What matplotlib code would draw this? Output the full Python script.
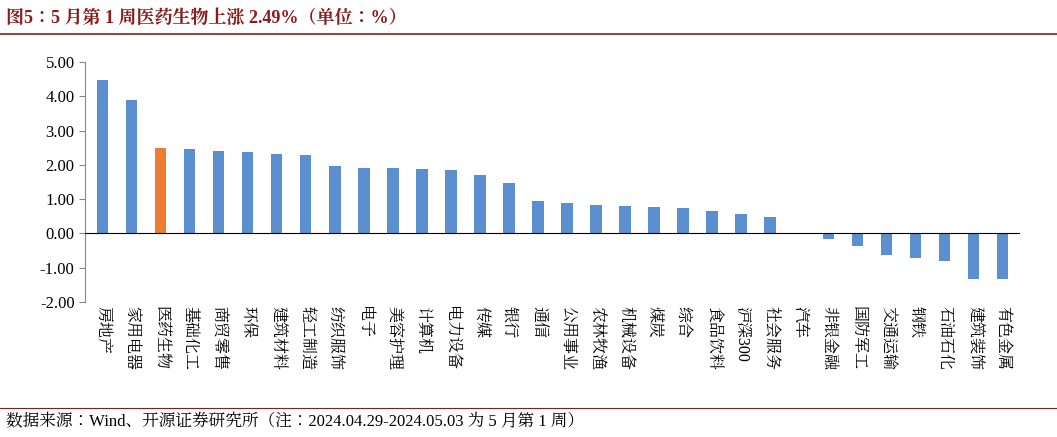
import matplotlib.pyplot as plt
from matplotlib import font_manager
from matplotlib.lines import Line2D

# find a CJK font actually registered
cjk_name = None
for f in font_manager.fontManager.ttflist:
    if 'CJK' in f.name and ('SC' in f.name or cjk_name is None):
        cjk_name = f.name
if cjk_name is None:
    for path in font_manager.findSystemFonts():
        if 'CJK' in path or 'cjk' in path.lower():
            font_manager.fontManager.addfont(path)
            cjk_name = font_manager.FontProperties(fname=path).get_name()
            break
plt.rcParams['font.family'] = ['Liberation Serif', cjk_name or 'DejaVu Sans']

categories = ['房地产', '家用电器', '医药生物', '基础化工', '商贸零售', '环保', '建筑材料', '轻工制造',
              '纺织服饰', '电子', '美容护理', '计算机', '电力设备', '传媒', '银行', '通信',
              '公用事业', '农林牧渔', '机械设备', '煤炭', '综合', '食品饮料', '沪深300', '社会服务',
              '汽车', '非银金融', '国防军工', '交通运输', '钢铁', '石油石化', '建筑装饰', '有色金属']
values = [4.47, 3.88, 2.49, 2.45, 2.40, 2.38, 2.33, 2.30, 1.97, 1.91, 1.90, 1.88, 1.86, 1.70,
          1.48, 0.95, 0.90, 0.83, 0.80, 0.78, 0.75, 0.65, 0.56, 0.48, -0.03, -0.15, -0.38,
          -0.63, -0.72, -0.80, -1.32, -1.34]
highlight = '医药生物'
yticks = [-2.0, -1.0, 0.0, 1.0, 2.0, 3.0, 4.0, 5.0]

W, H = 1057, 437
fig = plt.figure(figsize=(W / 100, H / 100), dpi=100)
ax = fig.add_axes([85 / W, 1 - 302 / H, (1020 - 85) / W, (302 - 62) / H])

colors = ['#ED7D31' if c == highlight else '#5B8FD0' for c in categories]
x = range(len(categories))
ax.bar(x, values, width=0.4, color=colors, zorder=2)
ax.axhline(0, color='black', lw=0.8, zorder=3)

ax.set_xlim(-0.6, len(categories) - 0.4)
ax.set_ylim(-2, 5)
ax.set_yticks(yticks)
ax.set_yticklabels([f'{v:.2f}' for v in yticks], fontsize=12)
ax.set_xticks([])
for s in ['top', 'right', 'bottom']:
    ax.spines[s].set_visible(False)
ax.spines['left'].set_color('#888888')
ax.tick_params(axis='y', direction='out', length=4, color='#888888')

for i, c in enumerate(categories):
    ax.text(i, -2.12, c, rotation=270, ha='center', va='top', fontsize=11.5)

fig.text(6 / W, 1 - 18 / H, '图5：5 月第 1 周医药生物上涨 2.49%（单位：%）', fontsize=13,
         fontweight='bold', color='#8B1A1A', va='center')
fig.add_artist(Line2D([0, 1], [1 - 34 / H, 1 - 34 / H], color='#8B1A1A', lw=1.2))
fig.add_artist(Line2D([0, 1], [1 - 408 / H, 1 - 408 / H], color='#8B1A1A', lw=0.8))
fig.text(6 / W, 1 - 422 / H, '数据来源：Wind、开源证券研究所（注：2024.04.29-2024.05.03 为 5 月第 1 周）',
         fontsize=12, va='center')

fig.savefig('out.png', dpi=100)
